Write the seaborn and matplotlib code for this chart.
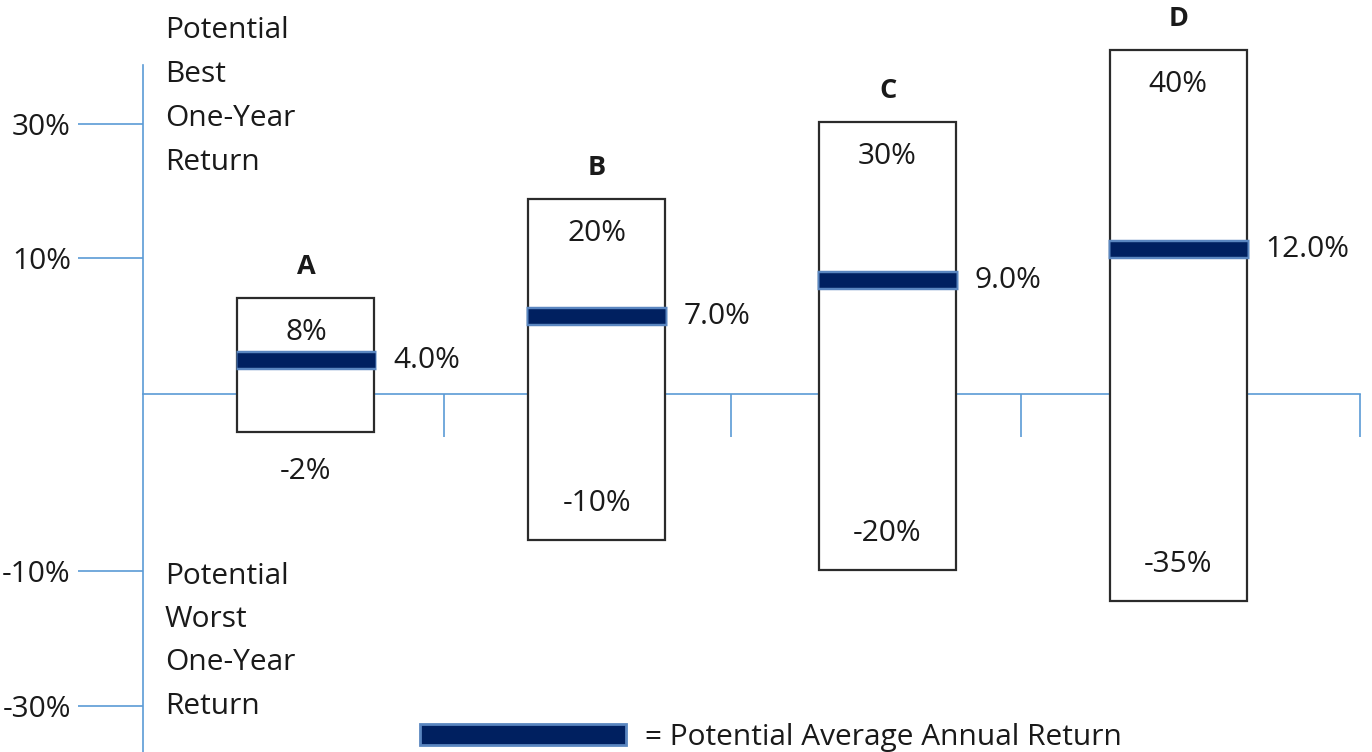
import numpy as np
import pandas as pd
import matplotlib
matplotlib.use("Agg")
import matplotlib.pyplot as plt
from matplotlib.patches import Patch
import seaborn as sns

sns.set_theme(style="white")
plt.rcParams['font.family'] = ['Open Sans', 'DejaVu Sans']

# chart values
funds = ["A", "B", "C", "D"]
best_return = [8, 20, 30, 40]
worst_return = [-2, -10, -20, -35]
avg_return = [4.0, 7.0, 9.0, 12.0]
axis_ticks = [30, 10, -10, -30]
best_caption = ["Potential", "Best", "One-Year", "Return"]
worst_caption = ["Potential", "Worst", "One-Year", "Return"]
legend_label = "= Potential Average Annual Return"

W, H = 1372, 752
NAVY = "#002060"
EDGE_BLUE = "#5a86c0"
AXIS_BLUE = "#5b9bd5"
TEXT = "#1a1a1a"
FS = 21.5

# The original is a schematic drawing, not to scale, so both vertical axes
# use a piecewise-linear scale (value -> pixel height from the bottom).
box_knot_vals = [-120, -35, -20, -10, -5, 0, 5, 10, 20, 30, 40, 60]
box_knot_px = [-25, 151, 182, 212, 262, 358, 400, 490, 553, 630, 702, 846]
tick_knot_vals = [-60, -30, -10, 10, 30, 60]
tick_knot_px = [-156, 46, 181, 494, 628, 829]


def make_scale(vals, px):
    fwd = lambda v: np.interp(v, vals, px)
    inv = lambda p: np.interp(p, px, vals)
    return fwd, inv


box_fwd, box_inv = make_scale(box_knot_vals, box_knot_px)
tick_fwd, tick_inv = make_scale(tick_knot_vals, tick_knot_px)

# horizontal layout (category units)
x_lo, x_hi = -1.052, 3.666
axis_x = -0.56
bound_x = [0.476, 1.462, 2.459, 3.625]

fig = plt.figure(figsize=(W / 100, H / 100), dpi=100)

# frame axes: the left "return" axis with its ticks
frame = fig.add_axes([0, 0, 1, 1])
frame.set_yscale("function", functions=(tick_fwd, tick_inv))
frame.set_ylim(tick_inv(0), tick_inv(H))
frame.set_xlim(x_lo, x_hi)
frame.set_xticks([])
frame.set_yticks(axis_ticks, labels=[f"{t}%" for t in axis_ticks])
for s in ["top", "right", "bottom"]:
    frame.spines[s].set_visible(False)
frame.spines["left"].set_position(("data", axis_x))
frame.spines["left"].set_bounds(tick_inv(0), tick_inv(H - 65))
frame.spines["left"].set_color(AXIS_BLUE)
frame.spines["left"].set_linewidth(1.2)
frame.tick_params(axis="y", left=True, direction="out", length=47, width=1.2,
                  color=AXIS_BLUE, pad=5, labelsize=FS, labelcolor=TEXT)

# main axes: the boxes
ax = fig.add_axes([0, 0, 1, 1], facecolor="none")
df = pd.DataFrame({"fund": funds, "span": np.subtract(best_return, worst_return)})
sns.barplot(data=df, x="fund", y="span", bottom=np.array(worst_return), width=0.471,
            color="white", edgecolor="#2b2b2b", linewidth=1.6, errorbar=None,
            zorder=3, ax=ax)
ax.set_yscale("function", functions=(box_fwd, box_inv))
ax.set_ylim(box_inv(0), box_inv(H))
ax.set_xlim(x_lo, x_hi)
ax.set_xlabel("")
ax.set_ylabel("")
ax.set_yticks([])
ax.set_xticks(bound_x, labels=[])
for s in ["top", "right", "left"]:
    ax.spines[s].set_visible(False)
ax.spines["bottom"].set_position(("data", 0))
ax.spines["bottom"].set_bounds(axis_x, bound_x[-1])
ax.spines["bottom"].set_color(AXIS_BLUE)
ax.spines["bottom"].set_linewidth(1.2)
ax.tick_params(axis="x", bottom=True, direction="out", length=31, width=1.2,
               color=AXIS_BLUE)

# average-return bars
xs = np.arange(len(funds))
ax.hlines(avg_return, xs - 0.242, xs + 0.242, color=EDGE_BLUE, lw=14,
          capstyle="butt", zorder=4)
ax.hlines(avg_return, xs - 0.236, xs + 0.236, color=NAVY, lw=10.5,
          capstyle="butt", zorder=5)

# labels
for i, fund in enumerate(funds):
    ax.annotate(fund, (i, best_return[i]), xytext=(0, 22), textcoords="offset points",
                ha="center", va="center", fontsize=19.5, fontweight="bold", color=TEXT)
    ax.annotate(f"{best_return[i]}%", (i, best_return[i]), xytext=(0, -24.5),
                textcoords="offset points", ha="center", va="center", fontsize=FS, color=TEXT)
    span = best_return[i] - worst_return[i]
    dy = -28 if span < 15 else 26
    ax.annotate(f"{worst_return[i]}%", (i, worst_return[i]), xytext=(0, dy),
                textcoords="offset points", ha="center", va="center", fontsize=FS, color=TEXT)
    ax.annotate(f"{avg_return[i]:.1f}%", (i + 0.242, avg_return[i]), xytext=(12, 0),
                textcoords="offset points", ha="left", va="center", fontsize=FS, color=TEXT)

# side captions
for k, line in enumerate(best_caption):
    fig.text(165 / W, 1 - (30 + 44 * k) / H, line, ha="left", va="center",
             fontsize=FS, color=TEXT)
for k, line in enumerate(worst_caption):
    fig.text(165 / W, 1 - (576 + 43.5 * k) / H, line, ha="left", va="center",
             fontsize=FS, color=TEXT)

# legend
handle = Patch(facecolor=NAVY, edgecolor=EDGE_BLUE, linewidth=2)
leg = ax.legend([handle], [legend_label], loc="center left",
                bbox_to_anchor=(420 / W, 1 - 737 / H), bbox_transform=fig.transFigure,
                frameon=False, fontsize=FS, handlelength=6.9, handleheight=0.7,
                handletextpad=0.65, borderpad=0, borderaxespad=0)
for t in leg.get_texts():
    t.set_color(TEXT)

fig.savefig("out.png", dpi=100)
